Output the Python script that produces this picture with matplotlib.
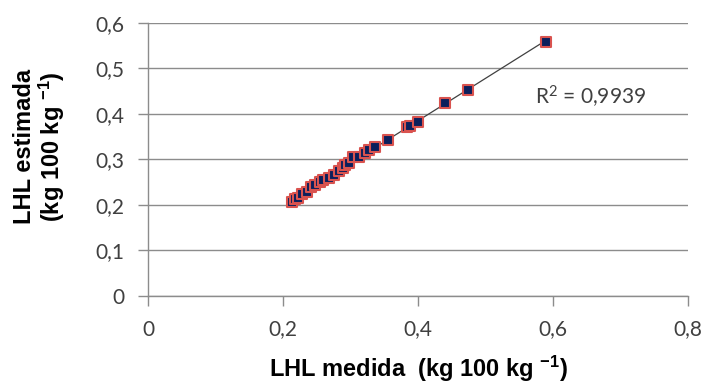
import matplotlib
matplotlib.use("Agg")
import matplotlib.pyplot as plt
import numpy as np

# LHL medida vs LHL estimada (kg 100 kg-1)
lhl_medida = [0.213, 0.218, 0.222, 0.228, 0.235, 0.242, 0.248, 0.255, 0.260,
              0.268, 0.275, 0.283, 0.289, 0.292, 0.298, 0.304, 0.312, 0.321,
              0.328, 0.336, 0.356, 0.383, 0.388, 0.400, 0.440, 0.474, 0.590]
lhl_estimada = [0.207, 0.212, 0.215, 0.225, 0.228, 0.240, 0.243, 0.250, 0.255,
                0.258, 0.265, 0.275, 0.280, 0.288, 0.293, 0.306, 0.305, 0.313,
                0.320, 0.328, 0.342, 0.370, 0.373, 0.383, 0.423, 0.452, 0.558]
x_ticks = [0, 0.2, 0.4, 0.6, 0.8]
y_ticks = [0, 0.1, 0.2, 0.3, 0.4, 0.5, 0.6]
r2_label = r"R$^2$ = 0,9939"

plt.rcParams["mathtext.default"] = "regular"

fig = plt.figure(figsize=(7.07, 3.83), dpi=100)
ax = fig.add_axes([0.2093, 0.2272, 0.7638, 0.7135])

axis_col = "#8c8c8c"
text_col = "#404040"

# linha de tendência
slope, intercept = np.polyfit(lhl_medida, lhl_estimada, 1)
xs = np.array([min(lhl_medida), max(lhl_medida)])
ax.plot(xs, slope * xs + intercept, color="#404040", lw=0.9, zorder=2)

ax.scatter(lhl_medida, lhl_estimada, marker="s", s=52, facecolor="#0b1f5c",
           edgecolor="#d9534f", linewidth=1.5, zorder=3)

ax.set_xlim(0, 0.8)
ax.set_ylim(0, 0.6)
ax.set_xticks(x_ticks)
ax.set_yticks(y_ticks)
ax.set_xticklabels([f"{t:g}".replace(".", ",") for t in x_ticks])
ax.set_yticklabels([f"{t:g}".replace(".", ",") for t in y_ticks])

ax.grid(axis="y", color=axis_col, lw=1.0)
ax.set_axisbelow(True)
for side in ["top", "right"]:
    ax.spines[side].set_visible(False)
for side in ["left", "bottom"]:
    ax.spines[side].set_color(axis_col)
    ax.spines[side].set_linewidth(1.0)
ax.tick_params(axis="both", direction="out", length=7, width=1.0,
               color=axis_col, labelcolor=text_col, labelsize=15)
ax.tick_params(axis="y", pad=10)
ax.tick_params(axis="x", pad=10)
for lab in ax.get_xticklabels() + ax.get_yticklabels():
    lab.set_family("Lato")

ax.text(0.819, 0.728, r2_label, transform=ax.transAxes, fontsize=15,
        color=text_col, family="Lato", ha="center", va="center")

lab_font = dict(family="Liberation Sans", weight="bold", fontsize=17, color="black")
fig.text(0.592, 0.036, r"LHL medida  (kg 100 kg $^{-1}$)", ha="center", va="center", **lab_font)
fig.text(0.034, 0.617, "LHL estimada", rotation=90, ha="center", va="center", **lab_font)
fig.text(0.0735, 0.617, r"(kg 100 kg $^{-1}$)", rotation=90, ha="center", va="center", **lab_font)

fig.savefig("out.png", dpi=100)
